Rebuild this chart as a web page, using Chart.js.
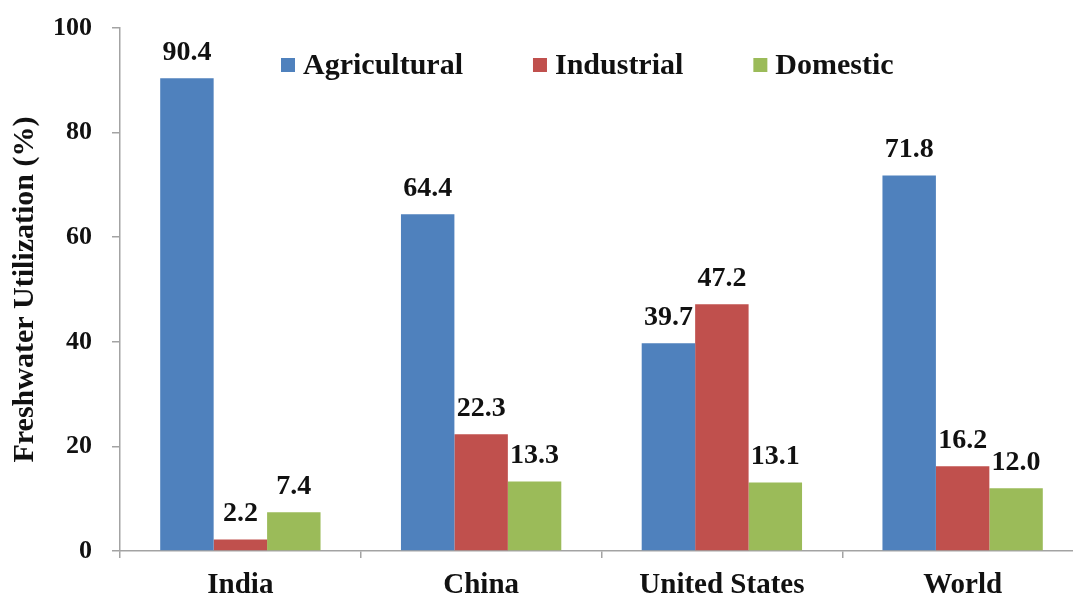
<!DOCTYPE html>
<html>
<head>
<meta charset="utf-8">
<script src="https://cdn.jsdelivr.net/npm/chart.js@4.4.0/dist/chart.umd.min.js"></script>
<style>
  html, body { margin: 0; padding: 0; background: #fff; overflow: hidden; }
  #wrap { position: absolute; left: 0; top: 0; width: 1083px; height: 597px; }
</style>
</head>
<body>
<div id="wrap"><canvas id="chart"></canvas></div>
<script>
// data
const regions = ['India', 'China', 'United States', 'World'];
const agricultural = [90.4, 64.4, 39.7, 71.8];
const industrial = [2.2, 22.3, 47.2, 16.2];
const domestic = [7.4, 13.3, 13.1, 12.0];
const yTicks = [0, 20, 40, 60, 80, 100];

const SERIF = "'Liberation Serif', 'Times New Roman', serif";
const AXIS_GREY = '#a3a3a3';

// value labels above each bar
const valueLabels = {
    id: 'valueLabels',
    afterDatasetsDraw(chart) {
        const ctx = chart.ctx;
        ctx.save();
        ctx.font = 'bold 28px ' + SERIF;
        ctx.fillStyle = '#111';
        ctx.textAlign = 'center';
        ctx.textBaseline = 'alphabetic';
        chart.data.datasets.forEach((ds, i) => {
            chart.getDatasetMeta(i).data.forEach((bar, j) => {
                ctx.fillText(ds.data[j].toFixed(1), bar.x, bar.y - 18);
            });
        });
        ctx.restore();
    }
};

// legend sits inside the plot area, near the top
const innerLegend = {
    id: 'innerLegend',
    afterDraw(chart) {
        const ctx = chart.ctx;
        ctx.save();
        ctx.font = 'bold 30px ' + SERIF;
        ctx.textBaseline = 'alphabetic';
        ctx.textAlign = 'left';
        let x = 281;
        const y = 65;
        chart.data.datasets.forEach(ds => {
            ctx.fillStyle = ds.backgroundColor;
            ctx.fillRect(x, y - 7, 14, 14);
            ctx.fillStyle = '#111';
            ctx.fillText(ds.label, x + 22, y + 9);
            x += 22 + ctx.measureText(ds.label).width + 70;
        });
        ctx.restore();
    }
};

new Chart(document.getElementById('chart'), {
    type: 'bar',
    data: {
        labels: regions,
        datasets: [
            { label: 'Agricultural', data: agricultural, backgroundColor: '#4f81bd' },
            { label: 'Industrial', data: industrial, backgroundColor: '#c0504d' },
            { label: 'Domestic', data: domestic, backgroundColor: '#9bbb59' }
        ]
    },
    options: {
        responsive: true,
        maintainAspectRatio: false,
        animation: false,
        layout: { padding: { top: 28, left: 0, right: 0, bottom: 0 } },
        datasets: {
            bar: { categoryPercentage: 0.666, barPercentage: 1.0 }
        },
        plugins: {
            legend: { display: false },
            tooltip: { enabled: false }
        },
        scales: {
            x: {
                afterFit: scale => { scale.height = 46; },
                border: { color: AXIS_GREY, width: 1.5 },
                grid: { drawOnChartArea: false, drawTicks: true, tickLength: 7, color: AXIS_GREY, lineWidth: 1.5 },
                ticks: { color: '#111', padding: 10, font: { family: SERIF, size: 29, weight: 'bold' } }
            },
            y: {
                min: 0,
                max: 100,
                afterFit: scale => {
                    scale.width = 120;
                    scale.paddingTop = 0;
                    scale.paddingBottom = 0;
                },
                afterBuildTicks: scale => { scale.ticks = yTicks.map(v => ({ value: v })); },
                border: { color: AXIS_GREY, width: 1.5 },
                grid: { drawOnChartArea: false, drawTicks: true, tickLength: 8, color: AXIS_GREY, lineWidth: 1.5 },
                ticks: { color: '#111', padding: 20, font: { family: SERIF, size: 26, weight: 'bold' } },
                title: {
                    display: true,
                    text: 'Freshwater Utilization (%)',
                    color: '#111',
                    padding: { top: 7, bottom: 0 },
                    font: { family: SERIF, size: 30, weight: 'bold' }
                }
            }
        }
    },
    plugins: [valueLabels, innerLegend]
});
</script>
</body>
</html>
